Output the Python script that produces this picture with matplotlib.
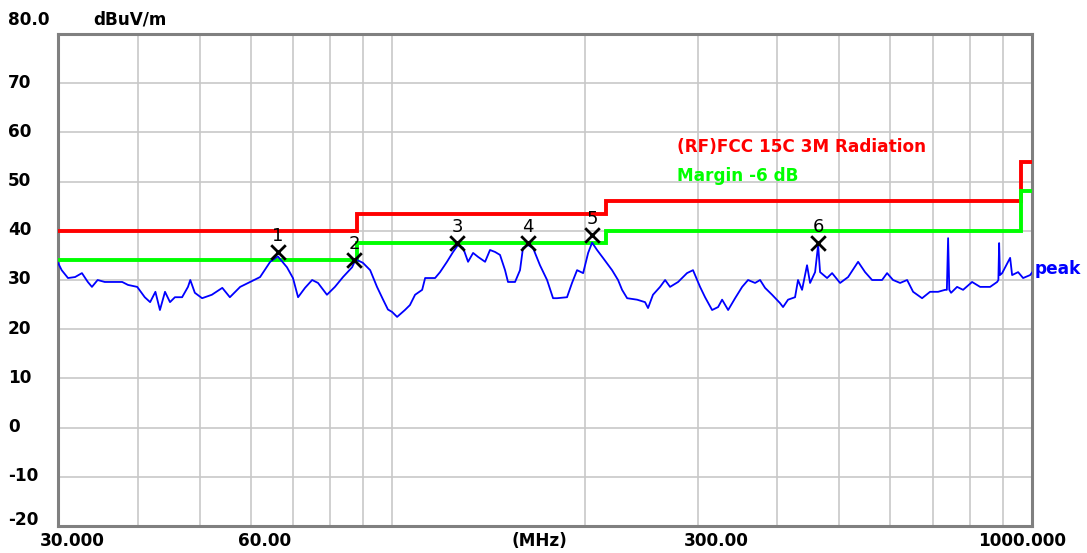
import matplotlib
matplotlib.use("Agg")
import matplotlib.pyplot as plt
import matplotlib.transforms as mtransforms
import numpy as np

# ---------------- data ----------------
freq_mhz = [30.0, 30.4, 31.1, 31.9, 32.7, 33.4, 33.9, 34.6, 35.5, 36.4, 37.8, 38.6, 39.9, 41.0, 41.8,
            42.6, 43.3, 44.1, 44.9, 45.7, 46.9, 47.9, 48.3, 49.1, 50.4, 52.2, 54.2, 55.7, 57.8, 59.9,
            62.1, 64.4, 66.2, 68.4, 69.9, 71.2, 73.0, 74.9, 76.5, 79.0, 81.3, 83.7, 86.5, 87.6, 89.9,
            92.3, 94.6, 96.7, 98.4, 99.9, 101.7, 104.6, 106.5, 108.5, 111.3, 112.5, 116.6, 118.7, 121.7,
            124.4, 126.6, 129.0, 131.3, 133.7, 136.1, 139.6, 142.1, 144.7, 147.3, 150.0, 151.6, 155.5,
            158.3, 160.0, 162.9, 165.9, 170.1, 174.5, 178.3, 180.9, 187.5, 190.9, 194.4, 198.7, 202.3,
            205.2, 208.9, 213.4, 220.5, 225.3, 228.6, 232.8, 241.3, 248.3, 251.0, 255.5, 262.1, 266.9,
            271.7, 279.7, 288.8, 295.1, 302.7, 308.2, 316.1, 323.0, 327.7, 334.9, 343.4, 352.2, 359.8,
            369.0, 375.7, 382.5, 392.3, 403.7, 408.1, 415.5, 426.1, 430.7, 437.0, 444.9, 449.8, 458.0,
            463.0, 466.3, 478.2, 486.9, 501.1, 515.8, 534.7, 548.3, 562.3, 582.9, 593.5, 606.4, 622.0,
            637.9, 651.8, 673.2, 692.8, 713.1, 731.3, 736.0, 739.3, 742.5, 747.3, 763.6, 780.3, 806.0,
            829.6, 860.0, 882.0, 886.0, 888.4, 891.0, 898.1, 924.3, 930.9, 951.2, 968.5, 993.2, 1000.0]
peak_dbuv = [33.5, 32.0, 30.4, 30.6, 31.4, 29.6, 28.6, 30.0, 29.6, 29.6, 29.6, 29.0, 28.6, 26.5, 25.5,
             27.6, 23.9, 27.6, 25.5, 26.5, 26.5, 28.6, 30.0, 27.4, 26.3, 27.0, 28.4, 26.5, 28.6, 29.6,
             30.6, 33.7, 34.8, 32.6, 30.4, 26.5, 28.4, 30.0, 29.4, 27.0, 28.6, 30.6, 32.6, 34.2, 33.5,
             32.0, 28.6, 26.0, 24.0, 23.5, 22.5, 23.9, 24.9, 27.0, 28.0, 30.4, 30.4, 31.6, 33.7,
             35.7, 37.1, 36.5, 33.7, 35.5, 34.7, 33.7, 36.1, 35.7, 35.1, 32.0, 29.6, 29.6,
             32.0, 36.5, 37.1, 36.5, 33.0, 30.0, 26.3, 26.3, 26.5, 29.4, 32.0, 31.4, 35.5,
             37.6, 36.1, 34.5, 32.0, 30.0, 28.0, 26.3, 26.0, 25.5, 24.3, 27.0, 28.6, 30.0,
             28.6, 29.6, 31.4, 32.0, 28.6, 26.5, 23.9, 24.5, 26.0, 23.9, 26.3, 28.6, 30.0,
             29.4, 30.0, 28.4, 27.0, 25.3, 24.5, 26.0, 26.5, 30.0, 28.0, 33.0, 29.4, 31.6,
             37.1, 31.6, 30.4, 31.4, 29.4, 30.6, 33.7, 31.6, 30.0, 30.0, 31.4, 30.0, 29.4,
             30.0, 27.6, 26.3, 27.6, 27.6, 28.0, 28.0, 38.5, 28.0, 27.4, 28.6, 28.0, 29.6,
             28.6, 28.6, 29.6, 30.0, 37.5, 31.0, 31.4, 34.5, 31.0, 31.6, 30.4, 31.0, 31.5]

limit_edges = [30, 88, 216, 960, 1000]
limit_levels = [40.0, 43.5, 46.0, 54.0]
margin_db = -6.0

marker_ids = ["1", "2", "3", "4", "5", "6"]
marker_freq = [66.2, 87.2, 126.2, 162.9, 205.2, 463.0]
marker_level = [35.7, 34.1, 37.5, 37.5, 39.1, 37.5]

ytick_values = [80, 70, 60, 50, 40, 30, 20, 10, 0, -10, -20]
ytick_labels = ["80.0", "70", "60", "50", "40", "30", "20", "10", "0", "-10", "-20"]
xtick_values = [30, 60, 300, 1000]
xtick_labels = ["30.000", "60.00", "300.00", "1000.000"]
minor_grid = [40, 50, 60, 70, 80, 90, 100, 200, 300, 400, 500, 600, 700, 800, 900]

# ---------------- figure ----------------
W, H, DPI = 1087, 553, 100
fig = plt.figure(figsize=(W / DPI, H / DPI), dpi=DPI)
fig.patch.set_facecolor("white")
ax = fig.add_axes([58 / W, (H - 526) / H, 974 / W, 492 / H])
ax.set_xscale("log")
ax.set_xlim(30, 1000)
ax.set_ylim(-20, 80)
ax.set_xticks([])
ax.set_yticks([])
ax.minorticks_off()
ax.tick_params(which="both", length=0, labelbottom=False, labelleft=False)

grid_c = "#c8c8c8"
for v in ytick_values:
    ax.axhline(v, color=grid_c, lw=1.2, zorder=1)
for f in minor_grid:
    ax.axvline(f, color=grid_c, lw=1.2, zorder=1)

for s in ax.spines.values():
    s.set_color("#808080")
    s.set_linewidth(2.2)

# limit + margin lines
lim_x = np.array(limit_edges, dtype=float)
lim_y = np.array(limit_levels + [limit_levels[-1]], dtype=float)
ax.step(lim_x, lim_y, where="post", color="#ff0000", lw=2.8, zorder=3, solid_joinstyle="miter")
ax.step(lim_x, lim_y + margin_db, where="post", color="#00ff00", lw=2.8, zorder=3,
        solid_joinstyle="miter")

# trace
ax.plot(freq_mhz, peak_dbuv, color="#0000ff", lw=1.3, zorder=4)

# markers
ax.scatter(marker_freq, marker_level, marker="x", s=110, color="black", linewidths=2.0, zorder=5)
for mid, f, l in zip(marker_ids, marker_freq, marker_level):
    ax.annotate(mid, (f, l), xytext=(0, 8), textcoords="offset points", ha="center",
                va="baseline", fontsize=13, color="black", zorder=6)

bold = dict(fontfamily="DejaVu Sans", fontweight="bold", fontsize=12.2)

# legend texts
ax.text(278.7, 56.0, "(RF)FCC 15C 3M Radiation", color="#ff0000", ha="left", va="baseline", **bold)
ax.text(278.7, 50.1, "Margin -6 dB", color="#00ff00", ha="left", va="baseline", **bold)
ax.text(1.003, 32.2, "peak", color="#0000ff", ha="left", va="center",
        transform=ax.get_yaxis_transform(), clip_on=False, **bold)

# y labels (left aligned at x = 8 px)
ytrans = mtransforms.blended_transform_factory(fig.transFigure, ax.transData)
y_off = {80: 9, -20: 1}
for v, lab in zip(ytick_values, ytick_labels):
    dy = y_off.get(v, -4.5)
    t = mtransforms.offset_copy(ytrans, fig=fig, x=0, y=dy, units="dots")
    ax.text(8 / W, v, lab, transform=t, ha="left", va="baseline", color="black", **bold)

ax.text(93 / W, 1 - 25 / H, "dBuV/m", transform=fig.transFigure, ha="left", va="baseline",
        color="black", **bold)

# x labels
xtrans = ax.get_xaxis_transform()
x_off = {30: 14, 60: 14, 300: 18.5, 1000: -10}
for v, lab in zip(xtick_values, xtick_labels):
    t = mtransforms.offset_copy(xtrans, fig=fig, x=x_off[v], y=-20, units="dots")
    ax.text(v, 0, lab, transform=t, ha="center", va="baseline", color="black", **bold)
t = mtransforms.offset_copy(xtrans, fig=fig, x=0, y=-20, units="dots")
ax.text(170, 0, "(MHz)", transform=t, ha="center", va="baseline", color="black", **bold)

fig.savefig("out.png", dpi=DPI)
